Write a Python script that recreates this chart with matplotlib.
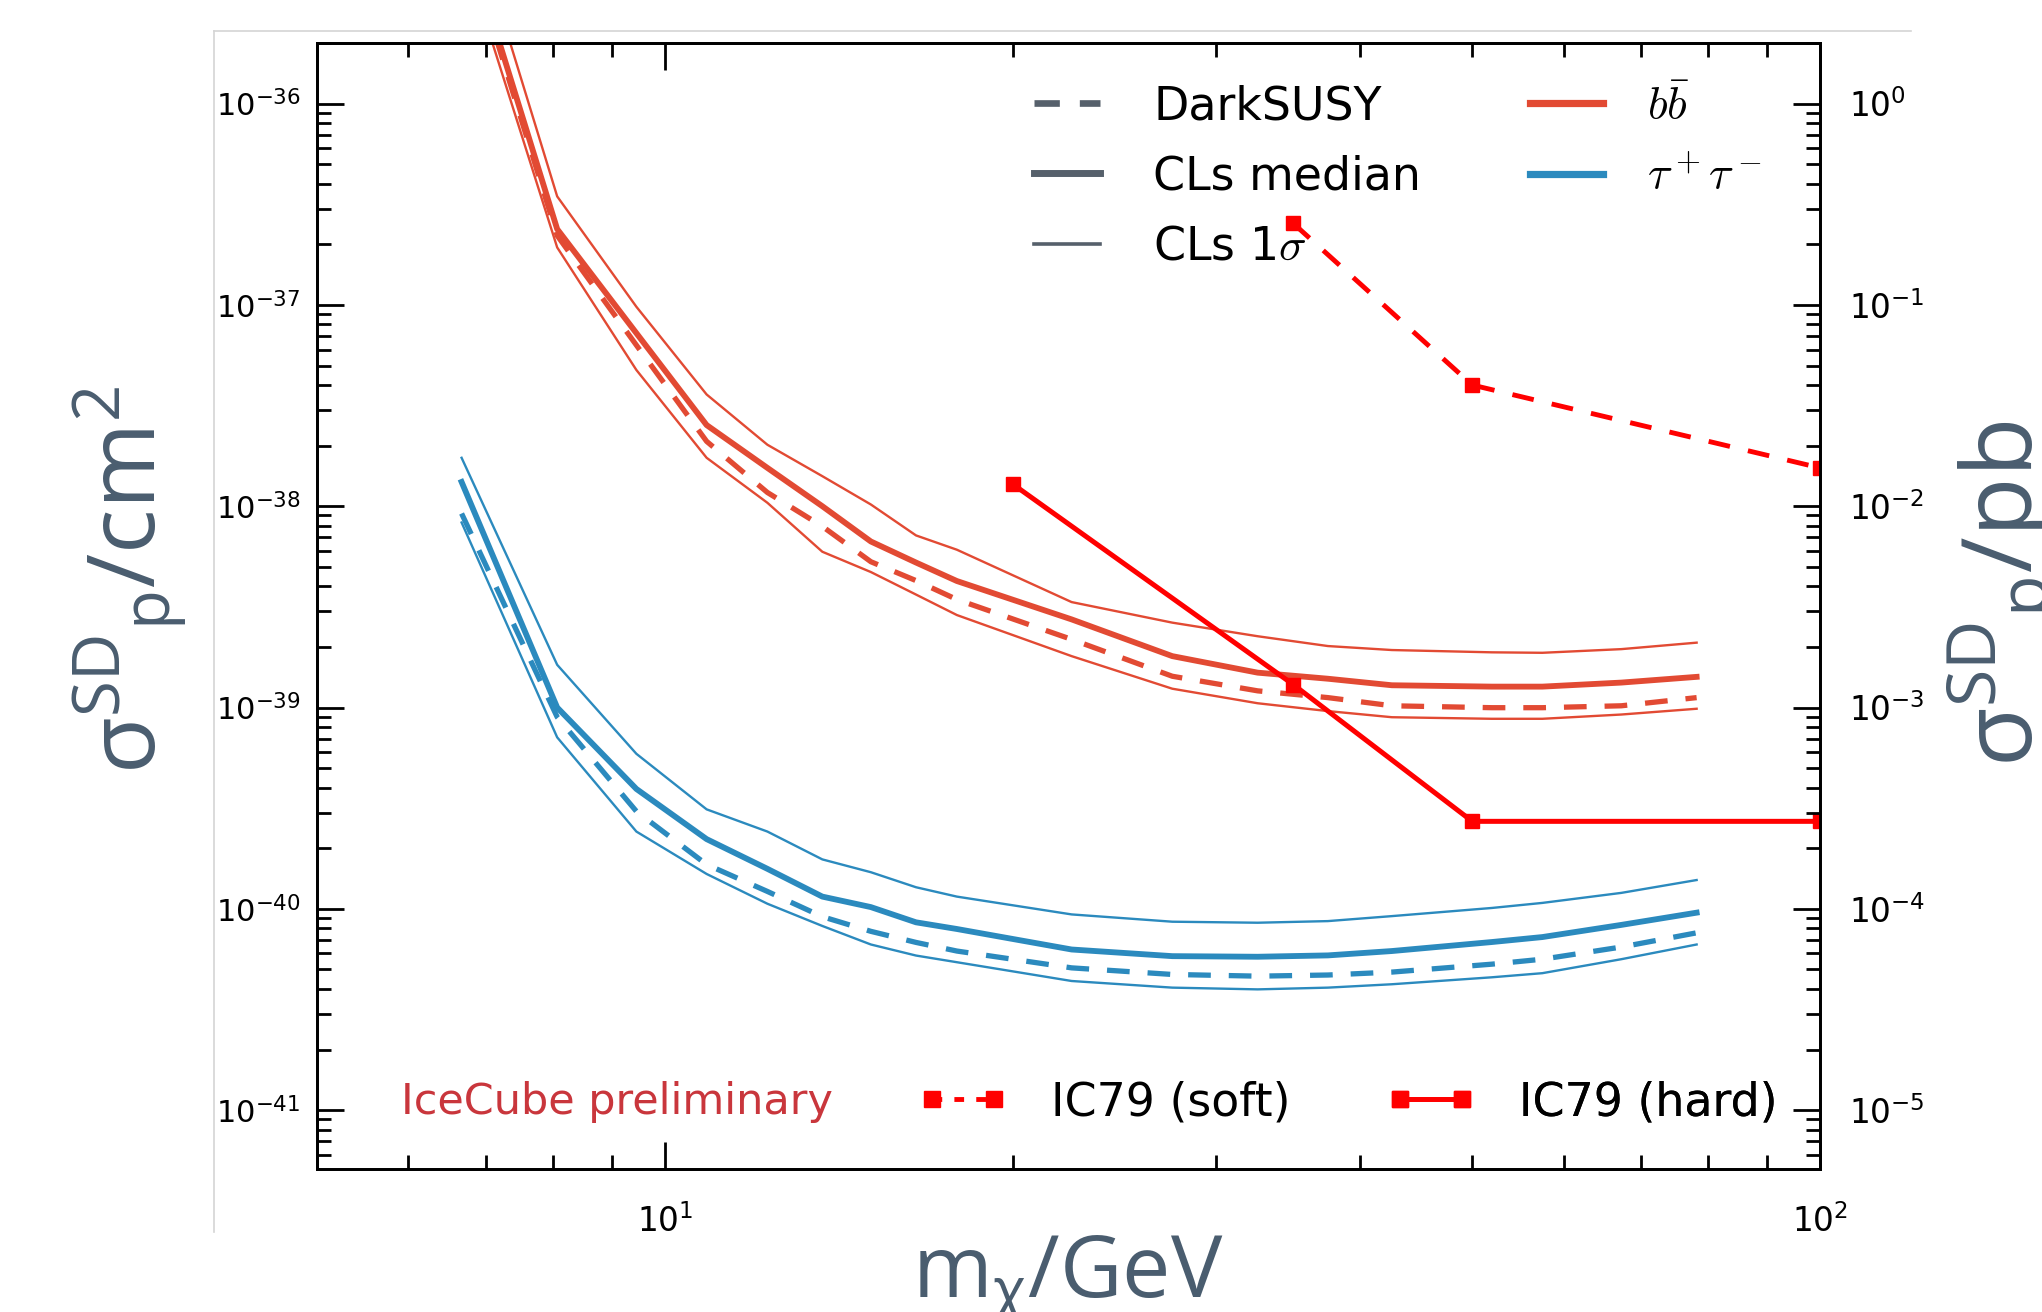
import matplotlib
matplotlib.use('Agg')
import matplotlib.pyplot as plt
from matplotlib.lines import Line2D
from matplotlib.ticker import LogLocator, NullFormatter

# ---------------- data ----------------
mass = [6.67, 8.07, 9.45, 10.87, 12.27, 13.69, 15.08, 16.5, 17.9, 22.5,
        27.5, 32.6, 37.5, 42.6, 52.0, 57.5, 67.3, 78.2]

bb_median = [8.13e-36, 2.38e-37, 7.24e-38, 2.53e-38, 1.55e-38, 1.00e-38, 6.68e-39, 5.25e-39, 4.25e-39,
             2.74e-39, 1.80e-39, 1.49e-39, 1.39e-39, 1.29e-39, 1.27e-39, 1.27e-39, 1.33e-39, 1.42e-39]
bb_upper = [1.23e-35, 3.46e-37, 9.79e-38, 3.59e-38, 2.02e-38, 1.41e-38, 1.02e-38, 7.16e-39, 6.08e-39,
            3.34e-39, 2.64e-39, 2.26e-39, 2.02e-39, 1.93e-39, 1.88e-39, 1.87e-39, 1.95e-39, 2.10e-39]
bb_lower = [6.10e-36, 1.93e-37, 4.75e-38, 1.74e-38, 1.04e-38, 5.94e-39, 4.71e-39, 3.64e-39, 2.88e-39,
            1.80e-39, 1.24e-39, 1.05e-39, 9.60e-40, 8.95e-40, 8.79e-40, 8.79e-40, 9.23e-40, 9.86e-40]
bb_darksusy = [7.59e-36, 2.21e-37, 6.31e-38, 2.10e-38, 1.17e-38, 7.94e-39, 5.30e-39, 4.27e-39, 3.44e-39,
               2.18e-39, 1.43e-39, 1.21e-39, 1.12e-39, 1.02e-39, 9.98e-40, 9.98e-40, 1.02e-39, 1.12e-39]

tau_median = [1.32e-38, 1.00e-39, 3.94e-40, 2.22e-40, 1.58e-40, 1.15e-40, 1.02e-40, 8.57e-41, 7.94e-41,
              6.28e-41, 5.82e-41, 5.78e-41, 5.87e-41, 6.17e-41, 6.84e-41, 7.24e-41, 8.32e-41, 9.57e-41]
tau_upper = [1.74e-38, 1.63e-39, 5.89e-40, 3.12e-40, 2.42e-40, 1.76e-40, 1.52e-40, 1.28e-40, 1.15e-40,
             9.38e-41, 8.63e-41, 8.53e-41, 8.69e-41, 9.20e-41, 1.01e-40, 1.07e-40, 1.20e-40, 1.39e-40]
tau_lower = [8.30e-39, 7.11e-40, 2.42e-40, 1.49e-40, 1.06e-40, 8.22e-41, 6.65e-41, 5.86e-41, 5.43e-41,
             4.38e-41, 4.06e-41, 3.98e-41, 4.06e-41, 4.22e-41, 4.57e-41, 4.79e-41, 5.62e-41, 6.65e-41]
tau_darksusy = [9.20e-39, 8.97e-40, 3.05e-40, 1.66e-40, 1.22e-40, 9.14e-41, 7.73e-41, 6.81e-41, 6.17e-41,
                5.09e-41, 4.72e-41, 4.63e-41, 4.69e-41, 4.85e-41, 5.31e-41, 5.62e-41, 6.46e-41, 7.60e-41]

ic79_soft_mass = [35, 50, 100]
ic79_soft_xs = [2.54e-37, 4.0e-38, 1.55e-38]
ic79_hard_mass = [20, 35, 50, 100]
ic79_hard_xs = [1.29e-38, 1.30e-39, 2.72e-40, 2.72e-40]

# ---------------- style ----------------
W, H = 2042, 1312
RED = '#E24A33'
BLUE = '#2B8ABE'
GRAY = '#56606B'
LABEL = '#4A5D6F'

plt.rcParams['font.family'] = ['DejaVu Sans']
plt.rcParams['mathtext.rm'] = 'Open Sans'
plt.rcParams['mathtext.it'] = 'Open Sans:italic'
plt.rcParams['mathtext.bf'] = 'Open Sans:bold'

fig = plt.figure(figsize=(W / 100, H / 100), dpi=100)
L, R, T, B = 317, 1820, 43, 1169
ax = fig.add_axes([L / W, 1 - B / H, (R - L) / W, (B - T) / H])

# frame lines of the original figure
fig.add_artist(Line2D([214 / W, 214 / W], [1 - 31 / H, 1 - 1232 / H], transform=fig.transFigure,
                      color='#d4d4d4', lw=1.2))
fig.add_artist(Line2D([214 / W, 1911 / W], [1 - 31 / H, 1 - 31 / H], transform=fig.transFigure,
                      color='#d4d4d4', lw=1.2))

ax.set_xscale('log')
ax.set_yscale('log')
xlim = (5, 100)
ylim = (5.1e-42, 2.0e-36)
ax.set_xlim(*xlim)
ax.set_ylim(*ylim)

thick, thin, dsh = 4.2, 1.7, 3.8
dpat = (4.3, 3.4)
for col, med, up, lo, ds in [(RED, bb_median, bb_upper, bb_lower, bb_darksusy),
                             (BLUE, tau_median, tau_upper, tau_lower, tau_darksusy)]:
    ax.plot(mass, up, color=col, lw=thin)
    ax.plot(mass, lo, color=col, lw=thin)
    ax.plot(mass, med, color=col, lw=thick)
    ax.plot(mass, ds, color=col, lw=dsh, dashes=dpat)

ax.plot(ic79_soft_mass, ic79_soft_xs, color='red', lw=3.5, dashes=(4.5, 3.8),
        marker='s', ms=9.5, zorder=5)
ax.plot(ic79_hard_mass, ic79_hard_xs, color='red', lw=3.6, marker='s', ms=9.5, zorder=5)

# axes styling
for sp in ax.spines.values():
    sp.set_linewidth(2.0)
ax.tick_params(which='both', direction='in', width=2.0, top=True, right=False)
ax.tick_params(which='major', length=19.5)
ax.tick_params(which='minor', length=10)
ax.tick_params(axis='x', which='major', labelsize=23.5, pad=25)
ax.tick_params(axis='y', which='major', labelsize=22, pad=12)
ax.xaxis.set_minor_formatter(NullFormatter())
ax.yaxis.set_major_locator(LogLocator(base=10, numticks=20))
ax.yaxis.set_minor_locator(LogLocator(base=10, subs=range(2, 10), numticks=20))
ax.yaxis.set_minor_formatter(NullFormatter())

ax2 = ax.twinx()
ax2.set_yscale('log')
ax2.set_ylim(ylim[0] * 1e36, ylim[1] * 1e36)
ax2.tick_params(which='both', direction='in', width=2.0)
ax2.tick_params(which='major', length=19.5, labelsize=23.5, pad=21)
ax2.tick_params(which='minor', length=10)
ax2.yaxis.set_major_locator(LogLocator(base=10, numticks=20))
ax2.yaxis.set_minor_locator(LogLocator(base=10, subs=range(2, 10), numticks=20))
ax2.yaxis.set_minor_formatter(NullFormatter())
for sp in ax2.spines.values():
    sp.set_linewidth(2.0)

# axis labels
fig.text(1068 / W, 1 - 1298 / H, r'$\mathrm{m}_{\mathrm{\chi}}/\mathrm{GeV}$', ha='center', va='baseline',
         fontsize=62, color=LABEL, math_fontfamily='custom')
fig.text(131 / W, 1 - 580 / H, r'$\mathrm{\sigma}^{\mathrm{SD}}{}_{\mathrm{p}}/\mathrm{cm}^{2}$',
         rotation=90, ha='center', va='center', fontsize=67, color=LABEL, math_fontfamily='custom')
fig.text(2006 / W, 1 - 594 / H, r'$\mathrm{\sigma}^{\mathrm{SD}}{}_{\mathrm{p}}/\mathrm{pb}$',
         rotation=90, ha='center', va='center', fontsize=70, color=LABEL, math_fontfamily='custom')

# legends
lk = dict(frameon=False, borderpad=0, borderaxespad=0, fontsize=33,
          bbox_transform=fig.transFigure, loc='center left')
h1 = [Line2D([], [], color=GRAY, lw=4.8, dashes=(3.8, 3.0)),
      Line2D([], [], color=GRAY, lw=5.0),
      Line2D([], [], color=GRAY, lw=2.6)]
leg1 = ax.legend(h1, ['DarkSUSY', 'CLs median', r'CLs 1$\sigma$'], handlelength=1.45,
                 handletextpad=1.15, labelspacing=0.55, bbox_to_anchor=(1034 / W, 1 - 177 / H), **lk)
leg1.get_texts()[2].set_math_fontfamily('cm')
ax.add_artist(leg1)

h2 = [Line2D([], [], color=RED, lw=5.2), Line2D([], [], color=BLUE, lw=5.2)]
leg2 = ax.legend(h2, [r'$b\bar{b}$', r'$\tau^+\tau^-$'], handlelength=1.6, handletextpad=0.95,
                 labelspacing=0.55, bbox_to_anchor=(1530 / W, 1 - 142 / H), **lk)
for t in leg2.get_texts():
    t.set_math_fontfamily('cm')
ax.add_artist(leg2)

h3 = [Line2D([], [], color='red', lw=3.5, dashes=(2.0, 2.5), marker='s', ms=11)]
leg3 = ax.legend(h3, ['IC79 (soft)'], handlelength=1.95, handletextpad=0.95, numpoints=2,
                 bbox_to_anchor=(918 / W, 1 - 1103 / H), **lk)
ax.add_artist(leg3)

h4 = [Line2D([], [], color='red', lw=3.5, marker='s', ms=11)]
leg4 = ax.legend(h4, ['IC79 (hard)'], handlelength=1.95, handletextpad=0.95, numpoints=2,
                 bbox_to_anchor=(1386 / W, 1 - 1103 / H), **lk)
ax.add_artist(leg4)

fig.text(401 / W, 1 - 1102 / H, 'IceCube preliminary', ha='left', va='center', fontsize=31,
         color='#C9363C')

fig.savefig('out.png', dpi=100)
